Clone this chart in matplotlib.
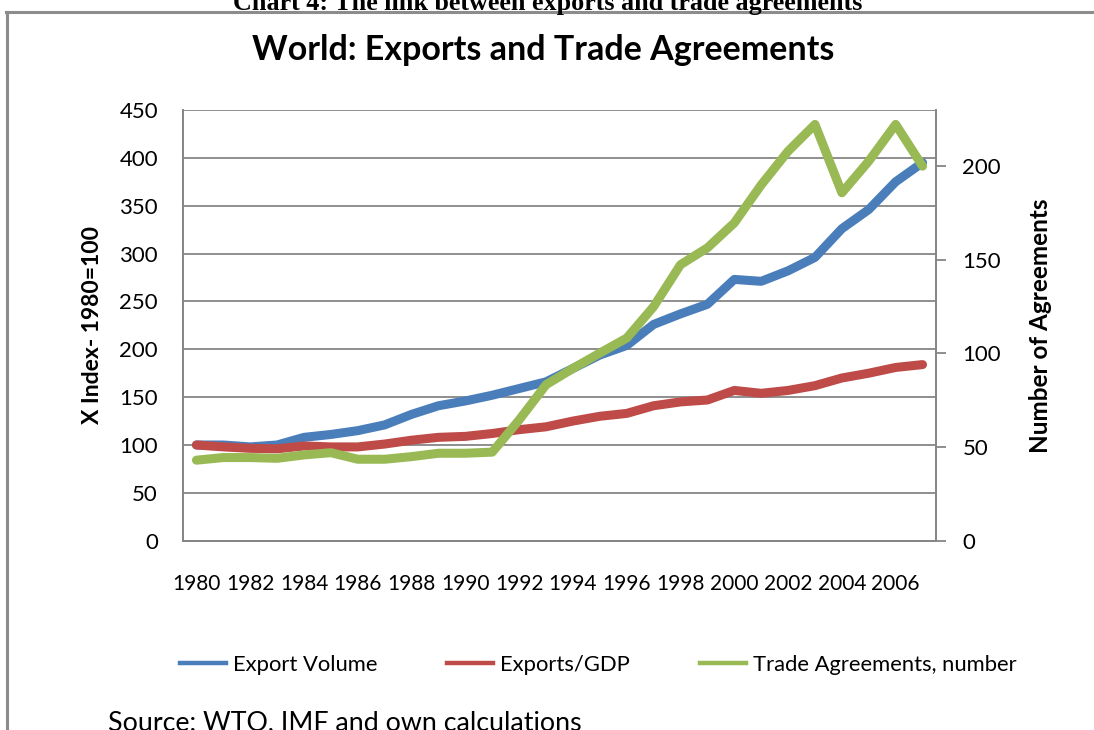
#!/usr/bin/env python3
"""World: exports and trade agreements, 1980-2007."""

import matplotlib

matplotlib.use("Agg")
import matplotlib.pyplot as plt
from matplotlib.lines import Line2D

years = list(range(1980, 2008))
export_volume = [100, 100, 98, 100, 108, 111, 115, 121, 132, 141, 146, 152, 159, 166,
                 180, 194, 204, 226, 237, 247, 273, 271, 282, 296, 326, 346, 375, 395]
exports_gdp = [100, 98, 96.5, 96, 99, 98, 98, 101, 105, 108, 109, 112, 116, 119,
               125, 130, 133, 141, 145, 147, 157, 154, 157, 162, 170, 175, 181, 184]
trade_agreements = [43, 44.4, 44.4, 44, 45.8, 47, 43.5, 43.5, 44.9, 46.7, 46.7, 47.3,
                    64.5, 83.3, 92, 100.2, 108.2, 125, 147.4, 156.4, 169.7, 190, 208,
                    222.3, 185.8, 202.7, 222.3, 200]
year_labels = [str(y) for y in years[::2]]

BLUE = "#4A7EBB"
RED = "#BE4B48"
GREEN = "#98B954"
GRID = "#868686"
FONT = "Lato"

W, H = 1094, 730
plt.rcParams.update({"font.family": FONT, "font.size": 15})

fig = plt.figure(figsize=(W / 100, H / 100), dpi=100)

# plot area in pixels
left, right, top, bottom = 183, 936, 110, 540.7
ax = fig.add_axes([left / W, 1 - bottom / H, (right - left) / W, (bottom - top) / H])
ax2 = ax.twinx()

x = list(range(len(years)))
lw = 6.5
ax.plot(x, export_volume, color=BLUE, lw=lw, solid_capstyle="round",
        solid_joinstyle="round", zorder=3)
ax.plot(x, exports_gdp, color=RED, lw=lw, solid_capstyle="round",
        solid_joinstyle="round", zorder=4)
ax2.plot(x, trade_agreements, color=GREEN, lw=lw, solid_capstyle="round",
         solid_joinstyle="round", zorder=5)

ax.set_xlim(-0.5, len(years) - 0.5)
ax.set_ylim(0, 450)
ax.set_yticks(range(0, 451, 50))
ax2.set_ylim(0, 230)
ax2.set_yticks(range(0, 201, 50))

ax.set_xticks(x[::2])
ax.set_xticklabels(year_labels)
ax.tick_params(axis="x", length=0, pad=24, labelsize=15)
ax.tick_params(axis="y", length=0, pad=18, labelsize=16)
ax2.tick_params(axis="y", length=7, width=1.3, color=GRID, pad=12, labelsize=16)

ax.grid(axis="y", color=GRID, lw=1.3)
ax.set_axisbelow(True)
for a in (ax, ax2):
    for s in a.spines.values():
        s.set_color(GRID)
        s.set_linewidth(1.3)
ax.spines["top"].set_visible(False)
ax2.spines["top"].set_visible(False)

ax.set_ylabel("X Index- 1980=100", fontsize=16.5, fontweight="bold", labelpad=12)
ax2.set_ylabel("Number of Agreements", fontsize=17.5, fontweight="bold", labelpad=20)

fig.text(543 / W, 1 - 50 / H, "World: Exports and Trade Agreements",
         fontsize=24.5, fontweight="bold", ha="center", va="center")

# cut-off document caption above the chart frame
fig.text(548 / W, 1 - 10 / H, "Chart 4: The link between exports and trade agreements",
         family="Liberation Serif", fontsize=18.8, fontweight="bold",
         ha="center", va="baseline")

# chart frame
fig.add_artist(Line2D([6 / W, 1], [1 - 12 / H] * 2, color="#8C8C8C", lw=2.2,
                      transform=fig.transFigure))
fig.add_artist(Line2D([7 / W] * 2, [0, 1 - 12 / H], color="#8C8C8C", lw=2.2,
                      transform=fig.transFigure))

handles = [Line2D([], [], color=c, lw=3.2) for c in (BLUE, RED, GREEN)]
fig.legend(handles, ["Export Volume", "Exports/GDP", "Trade Agreements, number"],
           loc="center", bbox_to_anchor=(598 / W, 1 - 665 / H), ncol=3,
           frameon=False, fontsize=15.8, handlelength=2.1, handletextpad=0.3,
           columnspacing=3.2)

fig.text(108 / W, 1 - 723 / H, "Source: WTO, IMF and own calculations",
         fontsize=19.3, ha="left", va="center")

fig.savefig("out.png", dpi=100)
